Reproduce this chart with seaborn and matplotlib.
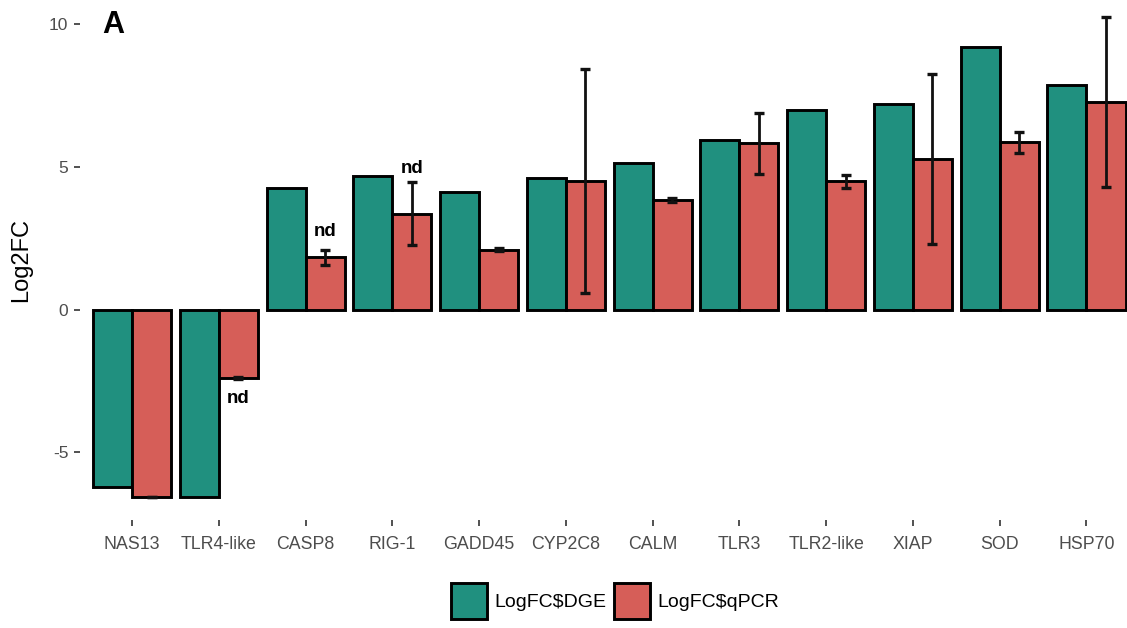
import numpy as np
import pandas as pd
import matplotlib
matplotlib.use("Agg")
import matplotlib.pyplot as plt
from matplotlib.patches import Patch
import seaborn as sns

genes = ["NAS13", "TLR4-like", "CASP8", "RIG-1", "GADD45", "CYP2C8",
         "CALM", "TLR3", "TLR2-like", "XIAP", "SOD", "HSP70"]
logfc_dge = [-6.23, -6.58, 4.24, 4.66, 4.13, 4.59, 5.12, 5.94, 6.99, 7.21, 9.20, 7.86]
logfc_qpcr = [-6.56, -2.39, 1.83, 3.35, 2.09, 4.49, 3.84, 5.82, 4.49, 5.27, 5.85, 7.28]
qpcr_err = [0.0, 0.03, 0.26, 1.10, 0.05, 3.92, 0.07, 1.06, 0.22, 2.98, 0.37, 2.98]
nd_genes = ["TLR4-like", "CASP8", "RIG-1"]
nd_offsets = [-14, 13, 10]  # points away from the bar / error-bar end
series = ["LogFC$DGE", "LogFC$qPCR"]
colors = ["#20907f", "#d65e58"]

df = pd.DataFrame({
    "gene": genes * 2,
    "value": logfc_dge + logfc_qpcr,
    "series": [series[0]] * len(genes) + [series[1]] * len(genes),
})

sns.set_theme(style="white")
plt.rcParams["font.family"] = ["Liberation Sans", "DejaVu Sans"]

fig = plt.figure(figsize=(11.27, 6.28), dpi=100)
W, H = 1127, 628
ax = fig.add_axes([80 / W, 1 - 520 / H, (W - 80) / W, 520 / H])

sns.barplot(data=df, x="gene", y="value", hue="series", order=genes,
            hue_order=series, palette=colors, width=0.9, errorbar=None,
            edgecolor="black", linewidth=2.1, saturation=1, ax=ax, legend=False)

# qPCR error bars at the centres of the qPCR bars
qpcr_bars = ax.containers[1]
xs = [b.get_x() + b.get_width() / 2 for b in qpcr_bars]
ax.errorbar(xs, logfc_qpcr, yerr=qpcr_err, fmt="none", ecolor="#111111",
            elinewidth=2.0, capsize=3.5, capthick=2.4, zorder=5)

# "nd" marks for qPCR values that were not detected
for g, off in zip(nd_genes, nd_offsets):
    i = genes.index(g)
    v, e = logfc_qpcr[i], qpcr_err[i]
    anchor = v + e if off > 0 else v - e
    ax.annotate("nd", (xs[i], anchor), xytext=(0, off), textcoords="offset points",
                ha="center", va="center", fontsize=13.5, fontweight="bold",
                color="black")

ax.set_xlim(-0.6, 11.467)
ax.set_ylim(-7.37, 10.84)
ax.set_yticks([-5, 0, 5, 10])
ax.set_yticklabels(["-5", "0", "5", "10"])
ax.set_xlabel("")
ax.set_ylabel("Log2FC", fontsize=17, color="black")
ax.yaxis.set_label_coords(-(80 - 32) / (W - 80), 0.5)
for s in ax.spines.values():
    s.set_visible(False)
ax.grid(False)
ax.tick_params(axis="both", which="both", length=4.3, width=1.2, color="#333333",
               labelcolor="#4d4d4d", left=True, bottom=True)
ax.tick_params(axis="y", pad=4, labelsize=12.5)
ax.tick_params(axis="x", pad=7, labelsize=12.8)

ax.text(102 / W, 1 - 25 / H, "A", transform=fig.transFigure, fontsize=22,
        fontweight="bold", ha="left", va="center", color="black")

handles = [Patch(facecolor=c, edgecolor="black", linewidth=2.1) for c in colors]
fig.legend(handles, series, loc="center", bbox_to_anchor=(615 / W, 1 - 601 / H),
           ncol=2, frameon=False, fontsize=14, handlelength=1.85, handleheight=2.47,
           handletextpad=0.36, columnspacing=0.41, labelcolor="black")

fig.savefig("out.png", dpi=100, facecolor="white")
